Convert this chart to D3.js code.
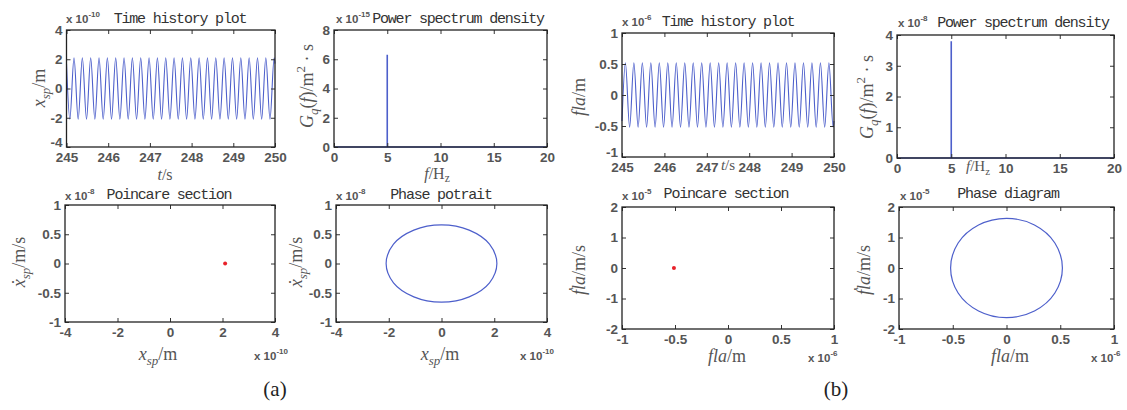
<!DOCTYPE html>
<html>
<head>
<meta charset="utf-8">
<script src="https://cdn.jsdelivr.net/npm/d3@7/dist/d3.min.js"></script>
<style>
  html, body { margin: 0; padding: 0; background: #fff; }
  svg { display: block; }
</style>
</head>
<body>
<svg id="chart" width="1127" height="410"></svg>
<script>
// ---------------- DATA (values in the units shown by the axis multipliers) ----------------
// time-history turning points (s)
const thTime = [245, 245.08, 245.18, 245.28, 245.38, 245.48, 245.58, 245.68, 245.78, 245.88, 245.98,
  246.08, 246.18, 246.28, 246.38, 246.48, 246.58, 246.68, 246.78, 246.88, 246.98,
  247.08, 247.18, 247.28, 247.38, 247.48, 247.58, 247.68, 247.78, 247.88, 247.98,
  248.08, 248.18, 248.28, 248.38, 248.48, 248.58, 248.68, 248.78, 248.88, 248.98,
  249.08, 249.18, 249.28, 249.38, 249.48, 249.58, 249.68, 249.78, 249.88, 249.98, 250];
// (a) x_sp (x 1e-10 m)
const thA = [1.70, -2.1, 2.1, -2.1, 2.1, -2.1, 2.1, -2.1, 2.1, -2.1, 2.1,
  -2.1, 2.1, -2.1, 2.1, -2.1, 2.1, -2.1, 2.1, -2.1, 2.1,
  -2.1, 2.1, -2.1, 2.1, -2.1, 2.1, -2.1, 2.1, -2.1, 2.1,
  -2.1, 2.1, -2.1, 2.1, -2.1, 2.1, -2.1, 2.1, -2.1, 2.1,
  -2.1, 2.1, -2.1, 2.1, -2.1, 2.1, -2.1, 2.1, -2.1, 2.1, 1.70];
// (b) fla (x 1e-6 m)
const thB = [-0.42, 0.52, -0.52, 0.52, -0.52, 0.52, -0.52, 0.52, -0.52, 0.52, -0.52,
  0.52, -0.52, 0.52, -0.52, 0.52, -0.52, 0.52, -0.52, 0.52, -0.52,
  0.52, -0.52, 0.52, -0.52, 0.52, -0.52, 0.52, -0.52, 0.52, -0.52,
  0.52, -0.52, 0.52, -0.52, 0.52, -0.52, 0.52, -0.52, 0.52, -0.52,
  0.52, -0.52, 0.52, -0.52, 0.52, -0.52, 0.52, -0.52, 0.52, -0.52, -0.42];

// power spectrum density
const psdFreq = [0, 5, 5, 5, 20];
const psdA = [0, 0, 6.3, 0, 0];   // x 1e-15
const psdB = [0, 0, 3.8, 0, 0];   // x 1e-8

// Poincare section points
const poincareAx = [2.1];  const poincareAy = [0];     // x 1e-10, x 1e-8
const poincareBx = [-0.51]; const poincareBy = [0];    // x 1e-6, x 1e-5

// phase trajectories (closed)
const phaseAx = [2.1, 1.82, 1.05, 0, -1.05, -1.82, -2.1, -1.82, -1.05, 0, 1.05, 1.82];
const phaseAy = [0, 0.33, 0.57, 0.66, 0.57, 0.33, 0, -0.33, -0.57, -0.66, -0.57, -0.33];
const phaseBx = [0.52, 0.45, 0.26, 0, -0.26, -0.45, -0.52, -0.45, -0.26, 0, 0.26, 0.45];
const phaseBy = [0, 0.82, 1.41, 1.63, 1.41, 0.82, 0, -0.82, -1.41, -1.63, -1.41, -0.82];

// tick labels
const ticksTime = [245, 246, 247, 248, 249, 250];
const ticksFreq = [0, 5, 10, 15, 20];
const ticksThA = [-4, -2, 0, 2, 4];
const ticksPsdA = [0, 2, 4, 6, 8];
const ticksXA = [-4, -2, 0, 2, 4];
const ticksVA = [-1, -0.5, 0, 0.5, 1];
const ticksThB = [-1, -0.5, 0, 0.5, 1];
const ticksPsdB = [0, 1, 2, 3, 4];
const ticksXB = [-1, -0.5, 0, 0.5, 1];
const ticksVB = [-2, -1, 0, 1, 2];

// ---------------- DRAWING ----------------
const svg = d3.select("#chart");
svg.append("rect").attr("width", 1127).attr("height", 410).attr("fill", "#fff");

const LINE = "#4d5fcb";
const TICKFONT = "'Liberation Sans Narrow','Liberation Sans',Arial,sans-serif";
const MATHFONT = "'Liberation Serif','DejaVu Serif',serif";
const TITLEFONT = "'Liberation Mono','DejaVu Sans Mono',monospace";

// rich text helper: segs = [{t, i:italic, s:'sub'|'sup'|null}]
function rich(sel, segs, size, subShift) {
  let cur = 0;
  const ss = subShift == null ? 0.3 : subShift;
  segs.forEach(sg => {
    let target = 0, fs = size;
    if (sg.s === "sub") { target = size * ss; fs = size * 0.72; }
    if (sg.s === "sup") { target = -size * 0.42; fs = size * 0.72; }
    sel.append("tspan")
      .attr("dy", target - cur)
      .attr("font-style", sg.i ? "italic" : "normal")
      .attr("font-size", fs)
      .text(sg.t);
    cur = target;
  });
}

function expLabel(x, y, exp) {
  const t = svg.append("text").attr("x", x).attr("y", y)
    .attr("font-family", TICKFONT).attr("font-weight", "bold")
    .attr("font-size", 11.5).attr("fill", "#555");
  t.append("tspan").text("x 10");
  t.append("tspan").attr("dy", -6).attr("font-size", 8).text(exp);
}

function panel(cfg) {
  const [x0, x1, y0, y1] = cfg.box;
  const x = d3.scaleLinear().domain(cfg.xd).range([x0, x1]);
  const y = d3.scaleLinear().domain(cfg.yd).range([y1, y0]);
  const g = svg.append("g");

  // data
  cfg.draw(g, x, y);

  // axes (inward ticks, MATLAB box)
  const fmt = d => String(d);
  const styleAxis = a => {
    a.select(".domain").remove();
    a.selectAll(".tick line").attr("stroke", "#333").attr("stroke-width", 1);
    a.selectAll(".tick text").attr("font-family", TICKFONT).attr("font-weight", "bold")
      .attr("font-size", 13.5).attr("fill", "#555");
  };
  g.append("g").attr("transform", `translate(0,${y1})`)
    .call(d3.axisBottom(x).tickValues(cfg.xt).tickFormat(fmt).tickSizeInner(-4).tickSizeOuter(0).tickPadding(5))
    .call(styleAxis);
  const ay = g.append("g").attr("transform", `translate(${x0},0)`)
    .call(d3.axisLeft(y).tickValues(cfg.yt).tickFormat(fmt).tickSizeInner(-4).tickSizeOuter(0).tickPadding(4))
    .call(styleAxis);
  if (cfg.nudge) {
    ay.selectAll(".tick text").filter(d => d === cfg.yd[0]).attr("transform", `translate(0,${-cfg.nudge})`);
  }
  g.append("g").attr("transform", `translate(0,${y0})`)
    .call(d3.axisTop(x).tickValues(cfg.xt).tickFormat("").tickSizeInner(-4).tickSizeOuter(0))
    .call(styleAxis);
  g.append("g").attr("transform", `translate(${x1},0)`)
    .call(d3.axisRight(y).tickValues(cfg.yt).tickFormat("").tickSizeInner(-4).tickSizeOuter(0))
    .call(styleAxis);
  g.append("rect").attr("x", x0).attr("y", y0).attr("width", x1 - x0).attr("height", y1 - y0)
    .attr("fill", "none").attr("stroke", "#222").attr("stroke-width", 1.3);

  // title
  svg.append("text").attr("x", cfg.title[1]).attr("y", cfg.title[2])
    .attr("text-anchor", "middle").attr("font-family", TITLEFONT).attr("font-size", 15)
    .attr("letter-spacing", -1.2).attr("fill", "#333").text(cfg.title[0]);
  // multiplier (y)
  expLabel(cfg.yexp[1], cfg.yexp[2], cfg.yexp[0]);
  if (cfg.xexp) expLabel(cfg.xexp[1], cfg.xexp[2], cfg.xexp[0]);

  // x label
  const fsx = cfg.xl[3] || 18;
  const xl = svg.append("text").attr("x", cfg.xl[1]).attr("y", cfg.xl[2])
    .attr("text-anchor", "middle").attr("font-family", MATHFONT).attr("fill", "#555").attr("font-size", fsx);
  rich(xl, cfg.xl[0], fsx, cfg.xl[4]);
  // y label
  const yl = svg.append("text").attr("transform", `translate(${cfg.yl[1]},${cfg.yl[2]}) rotate(-90)`)
    .attr("text-anchor", "middle").attr("font-family", MATHFONT).attr("fill", "#555").attr("font-size", 18);
  rich(yl, cfg.yl[0], 18);
}

const lineTH = (data) => (g, x, y) => {
  const pts = thTime.map((t, i) => [t, data[i]]);
  g.append("path").datum(pts)
    .attr("d", d3.line().x(d => x(d[0])).y(d => y(d[1])).curve(d3.curveMonotoneX))
    .attr("fill", "none").attr("stroke", LINE).attr("stroke-width", 1.1);
};
const linePSD = (data) => (g, x, y) => {
  const pts = psdFreq.map((f, i) => [f, data[i]]);
  g.append("path").datum(pts)
    .attr("d", d3.line().x(d => x(d[0])).y(d => y(d[1])))
    .attr("fill", "none").attr("stroke", LINE).attr("stroke-width", 1.6);
};
const dots = (xs, ys) => (g, x, y) => {
  g.selectAll(null).data(xs.map((v, i) => [v, ys[i]])).enter().append("circle")
    .attr("cx", d => x(d[0])).attr("cy", d => y(d[1])).attr("r", 2)
    .attr("fill", "#e8222a");
};
const orbit = (xs, ys) => (g, x, y) => {
  const pts = xs.map((v, i) => [v, ys[i]]);
  g.append("path").datum(pts)
    .attr("d", d3.line().x(d => x(d[0])).y(d => y(d[1])).curve(d3.curveCatmullRomClosed.alpha(0.5)))
    .attr("fill", "none").attr("stroke", LINE).attr("stroke-width", 1.2);
};

// label segment sets
const L_t = [{t: "t", i: true}, {t: "/s"}];
const L_f = [{t: "f", i: true}, {t: "/H"}, {t: "z", s: "sub"}];
const L_xsp = [{t: "x", i: true}, {t: "sp", i: true, s: "sub"}, {t: "/m"}];
const L_vsp = [{t: "x\u0307", i: true}, {t: "sp", i: true, s: "sub"}, {t: "/m/s"}];
const L_G = [{t: "G", i: true}, {t: "q", i: true, s: "sub"}, {t: "("}, {t: "f", i: true}, {t: ")/m"}, {t: "2", s: "sup"}, {t: " \u00b7 s"}];
const L_fla = [{t: "fla", i: true}, {t: "/m"}];
const L_vfla = [{t: "\u1e1fla", i: true}, {t: "/m/s"}];

// (a)
panel({box: [66.5, 275, 30, 147], xd: [245, 250], yd: [-4, 4], xt: ticksTime, yt: ticksThA, nudge: 5,
  draw: lineTH(thA), title: ["Time history plot", 180, 23], yexp: ["-10", 66, 23],
  xl: [L_t, 165, 180, 16], yl: [L_xsp, 45, 88]});
panel({box: [334, 547, 30, 147], xd: [0, 20], yd: [0, 8], xt: ticksFreq, yt: ticksPsdA,
  draw: linePSD(psdA), title: ["Power spectrum density", 458, 23], yexp: ["-15", 336, 23],
  xl: [L_f, 437, 179, 16, 0.2], yl: [L_G, 313, 86]});
panel({box: [65, 275, 205, 322], xd: [-4, 4], yd: [-1, 1], xt: ticksXA, yt: ticksVA,
  draw: dots(poincareAx, poincareAy), title: ["Poincare section", 169, 199], yexp: ["-8", 65, 200],
  xexp: ["-10", 254, 360], xl: [L_xsp, 158, 360], yl: [L_vsp, 25, 262]});
panel({box: [336, 547, 205, 322], xd: [-4, 4], yd: [-1, 1], xt: ticksXA, yt: ticksVA,
  draw: orbit(phaseAx, phaseAy), title: ["Phase potrait", 441, 199], yexp: ["-8", 336, 200],
  xexp: ["-10", 520, 360], xl: [L_xsp, 440, 360], yl: [L_vsp, 302, 262]});
// (b)
panel({box: [622, 834, 33, 157], xd: [245, 250], yd: [-1, 1], xt: ticksTime, yt: ticksThB, nudge: 5,
  draw: lineTH(thB), title: ["Time history plot", 728, 26], yexp: ["-6", 622, 26],
  xl: [L_t, 728, 170, 15], yl: [L_fla, 585, 97]});
panel({box: [897, 1114, 35, 158], xd: [0, 20], yd: [0, 4], xt: ticksFreq, yt: ticksPsdB,
  draw: linePSD(psdB), title: ["Power spectrum density", 1023, 27], yexp: ["-8", 898, 27],
  xl: [L_f, 978, 171, 15, 0.25], yl: [L_G, 873, 97]});
panel({box: [622, 834, 207, 329], xd: [-1, 1], yd: [-2, 2], xt: ticksXB, yt: ticksVB,
  draw: dots(poincareBx, poincareBy), title: ["Poincare section", 726, 198], yexp: ["-5", 622, 200],
  xexp: ["-6", 808, 362], xl: [L_fla, 727, 362], yl: [L_vfla, 585, 270]});
panel({box: [899, 1114, 207, 329], xd: [-1, 1], yd: [-2, 2], xt: ticksXB, yt: ticksVB,
  draw: orbit(phaseBx, phaseBy), title: ["Phase diagram", 1008, 198], yexp: ["-5", 900, 200],
  xexp: ["-6", 1091, 362], xl: [L_fla, 1010, 362], yl: [L_vfla, 870, 270]});

// sub-figure captions
svg.append("text").attr("x", 275).attr("y", 396).attr("text-anchor", "middle")
  .attr("font-family", MATHFONT).attr("font-size", 21).attr("fill", "#222").text("(a)");
svg.append("text").attr("x", 836).attr("y", 396).attr("text-anchor", "middle")
  .attr("font-family", MATHFONT).attr("font-size", 21).attr("fill", "#222").text("(b)");
</script>
</body>
</html>
